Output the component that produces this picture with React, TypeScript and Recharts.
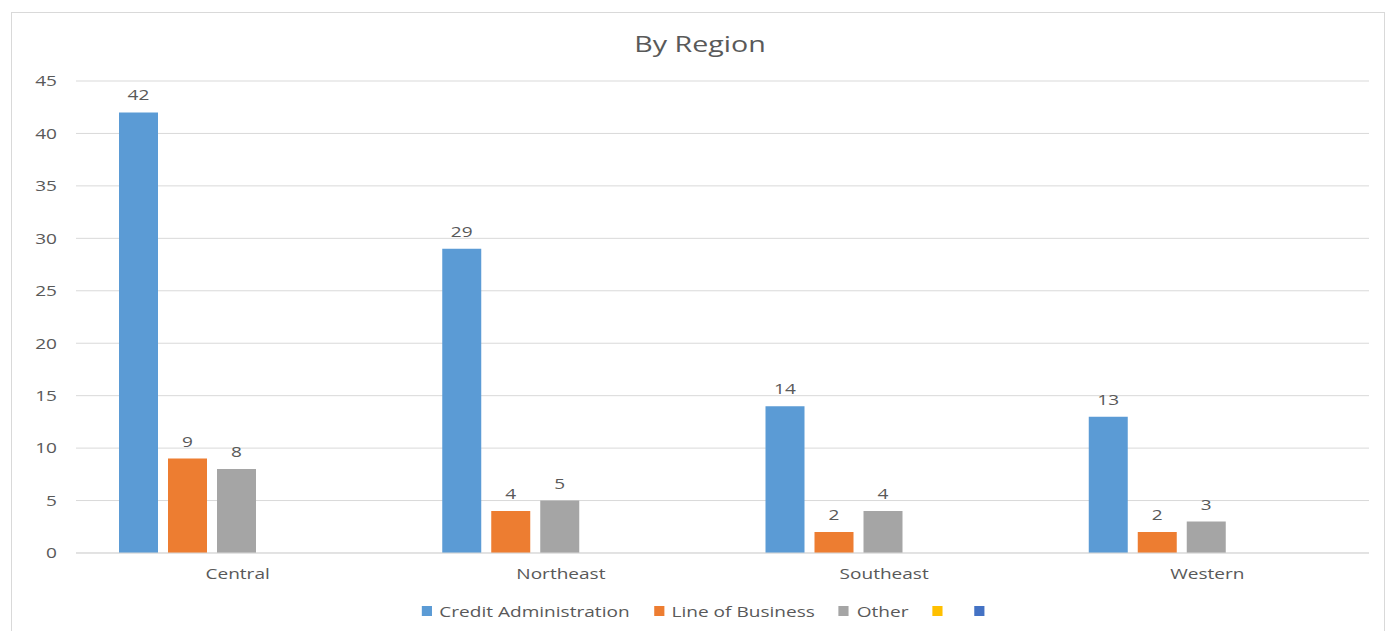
import { Bar, BarChart, CartesianGrid, LabelList, Legend, XAxis, YAxis } from 'recharts'

const regions = ['Central', 'Northeast', 'Southeast', 'Western']
const creditAdministration = [42, 29, 14, 13]
const lineOfBusiness = [9, 4, 2, 2]
const other = [8, 5, 4, 3]
const yTicks = [0, 5, 10, 15, 20, 25, 30, 35, 40, 45]

const seriesInfo = [
  { key: 'credit', name: 'Credit Administration', color: '#5B9BD5' },
  { key: 'lob', name: 'Line of Business', color: '#ED7D31' },
  { key: 'other', name: 'Other', color: '#A5A5A5' },
  { key: 'blank1', name: '', color: '#FFC000' },
  { key: 'blank2', name: '', color: '#4472C4' },
]

const data = regions.map((region, i) => ({
  region,
  credit: creditAdministration[i],
  lob: lineOfBusiness[i],
  other: other[i],
  blank1: null,
  blank2: null,
}))

const font = 'Open Sans, sans-serif'
const textColor = '#595959'
// reference text is drawn wider than Open Sans, so stretch it a little
const stretch = 1.27

const XTick = ({ x, y, payload }: any) => (
  <text
    transform={`translate(${x},${y}) scale(${stretch},1)`}
    textAnchor="middle"
    dy="0.71em"
    fill={textColor}
    fontSize={15}
    fontFamily={font}
  >
    {payload.value}
  </text>
)

const YTick = ({ x, y, payload }: any) => (
  <text
    transform={`translate(${x},${y}) scale(${stretch},1)`}
    textAnchor="end"
    dy="0.355em"
    fill={textColor}
    fontSize={15}
    fontFamily={font}
  >
    {payload.value}
  </text>
)

const BarLabel = (props: any) => {
  const { value } = props
  if (value === null || value === undefined) return null
  const vb = props.viewBox ?? props
  const cx = vb.x + vb.width / 2
  const y = vb.y - 12
  return (
    <text
      transform={`translate(${cx},${y}) scale(${stretch},1)`}
      textAnchor="middle"
      fill={textColor}
      fontSize={15}
      fontFamily={font}
    >
      {value}
    </text>
  )
}

const LegendContent = () => (
  <div
    style={{
      display: 'flex',
      justifyContent: 'center',
      alignItems: 'center',
      fontFamily: font,
      fontSize: 15,
      color: textColor,
      height: 24,
      transform: `translateX(25px) scaleX(${stretch})`,
      transformOrigin: 'center',
    }}
  >
    {seriesInfo.map((s) => (
      <div key={s.key} style={{ display: 'flex', alignItems: 'center', marginRight: 19 }}>
        <span style={{ width: 8, height: 10, background: s.color, display: 'inline-block', marginRight: 6 }} />
        <span>{s.name}</span>
      </div>
    ))}
  </div>
)

const App = () => {
  return (
    <div style={{ position: 'absolute', left: 0, top: 0, width: 1388, height: 631, background: '#fff' }}>
      <div
        style={{
          position: 'absolute',
          left: 11,
          top: 12,
          width: 1374,
          height: 640,
          border: '1px solid #d9d9d9',
          boxSizing: 'border-box',
        }}
      />
      <div
        style={{
          position: 'absolute',
          top: 28,
          width: 1388,
          textAlign: 'center',
          fontFamily: font,
          fontSize: 22,
          color: textColor,
          transform: 'translateX(6px) scaleX(1.3)',
          transformOrigin: 'center',
        }}
      >
        By Region
      </div>
      <BarChart
        width={1388}
        height={631}
        data={data}
        margin={{ top: 81, right: 19, bottom: 48, left: 26 }}
        barCategoryGap={43}
        barGap={10}
        style={{ position: 'absolute', left: 0, top: 0 }}
      >
        <CartesianGrid vertical={false} stroke="#d9d9d9" />
        <XAxis
          dataKey="region"
          axisLine={{ stroke: '#d9d9d9' }}
          tickLine={false}
          tickSize={0}
          tickMargin={15}
          height={30}
          tick={<XTick />}
        />
        <YAxis
          domain={[0, 45]}
          ticks={yTicks}
          axisLine={false}
          tickLine={false}
          tickSize={0}
          tickMargin={19}
          width={50}
          tick={<YTick />}
        />
        <Legend
          verticalAlign="middle"
          content={<LegendContent />}
          wrapperStyle={{ top: 599, left: 0, width: 1388 }}
        />
        {seriesInfo.map((s) => (
          <Bar key={s.key} dataKey={s.key} name={s.name} fill={s.color} isAnimationActive={false}>
            <LabelList dataKey={s.key} position="top" content={<BarLabel />} />
          </Bar>
        ))}
      </BarChart>
    </div>
  )
}

export default App
